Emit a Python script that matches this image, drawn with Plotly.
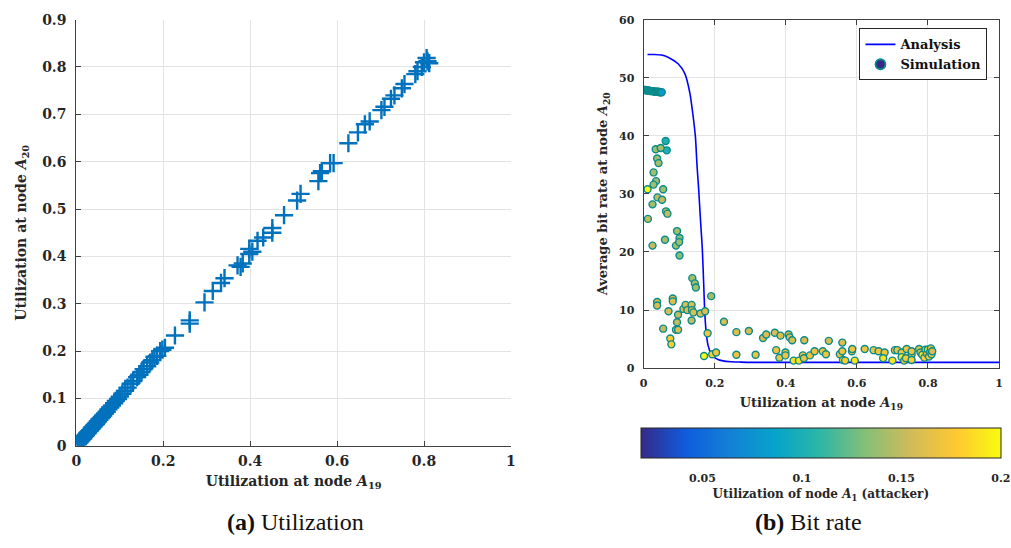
import plotly.graph_objects as go

# ---------------- (a) Utilization: A19 vs A20 ----------------
util_a19 = [0.002, 0.004, 0.006, 0.008, 0.010, 0.012, 0.014, 0.016, 0.018, 0.020,
            0.022, 0.025, 0.027, 0.030, 0.032, 0.035, 0.037, 0.040, 0.042, 0.045,
            0.047, 0.050, 0.053, 0.056, 0.059, 0.062, 0.066, 0.070, 0.074, 0.078,
            0.082, 0.087, 0.091, 0.096, 0.100, 0.106, 0.112, 0.118, 0.125, 0.131,
            0.140, 0.145, 0.150, 0.155, 0.163, 0.170, 0.175, 0.180, 0.186, 0.193,
            0.198, 0.204, 0.227, 0.261, 0.261, 0.295, 0.314, 0.333, 0.341, 0.371,
            0.378, 0.383, 0.398, 0.398, 0.405, 0.417, 0.430, 0.451, 0.451, 0.478,
            0.508, 0.516, 0.557, 0.561, 0.565, 0.584, 0.592, 0.626, 0.648, 0.664,
            0.675, 0.702, 0.709, 0.724, 0.732, 0.749, 0.755, 0.780, 0.785, 0.795,
            0.800, 0.806, 0.808, 0.812]
util_a20 = [0.003, 0.004, 0.007, 0.008, 0.011, 0.012, 0.015, 0.016, 0.019, 0.021,
            0.023, 0.026, 0.028, 0.031, 0.033, 0.036, 0.039, 0.041, 0.044, 0.046,
            0.049, 0.052, 0.055, 0.058, 0.061, 0.064, 0.068, 0.072, 0.077, 0.081,
            0.085, 0.090, 0.095, 0.099, 0.104, 0.110, 0.116, 0.123, 0.131, 0.137,
            0.145, 0.150, 0.156, 0.162, 0.168, 0.176, 0.181, 0.188, 0.190, 0.200,
            0.203, 0.207, 0.233, 0.265, 0.258, 0.303, 0.327, 0.344, 0.354, 0.381,
            0.378, 0.385, 0.405, 0.416, 0.410, 0.433, 0.440, 0.460, 0.450, 0.487,
            0.518, 0.532, 0.559, 0.576, 0.580, 0.597, 0.597, 0.639, 0.662, 0.679,
            0.685, 0.709, 0.716, 0.733, 0.740, 0.755, 0.764, 0.785, 0.791, 0.800,
            0.810, 0.819, 0.812, 0.808]

# ---------------- (b) Bit rate ----------------
analysis_x = [0.011, 0.03, 0.051, 0.07, 0.097, 0.116, 0.130, 0.139, 0.146, 0.150,
              0.155, 0.160, 0.165, 0.169, 0.172, 0.176, 0.181, 0.186, 0.190, 0.200,
              0.209, 0.22, 0.246, 0.27, 0.30, 0.40, 0.60, 0.80, 1.0]
analysis_y = [54.0, 54.0, 53.9, 53.5, 52.4, 50.7, 47.4, 43.5, 39.6, 35.1,
              30.7, 25.5, 20.7, 14.5, 9.6, 6.2, 4.0, 3.0, 2.3, 1.8,
              1.5, 1.3, 1.1, 1.05, 1.0, 1.0, 1.0, 1.0, 1.0]

sim_x = [0.003, 0.006, 0.009, 0.012, 0.015, 0.018, 0.021, 0.024, 0.027, 0.030,
         0.033, 0.036, 0.039, 0.042, 0.045, 0.048, 0.051,
         0.062, 0.065, 0.034, 0.048, 0.038, 0.042, 0.028, 0.035, 0.028, 0.011,
         0.055, 0.012, 0.025, 0.025, 0.039, 0.052, 0.063, 0.067, 0.060, 0.094,
         0.091, 0.101, 0.100, 0.101,
         0.038, 0.038, 0.070, 0.082, 0.082, 0.055, 0.075, 0.078, 0.091, 0.097,
         0.094, 0.097, 0.112, 0.118, 0.123, 0.135, 0.136, 0.135, 0.140, 0.137,
         0.144, 0.147, 0.160, 0.173, 0.190, 0.180, 0.170, 0.193, 0.204, 0.226,
         0.261, 0.261, 0.296, 0.315, 0.336, 0.345, 0.369, 0.373, 0.382, 0.385,
         0.399, 0.399, 0.408, 0.411, 0.418, 0.422, 0.437, 0.448, 0.451, 0.452,
         0.468, 0.481, 0.504, 0.513, 0.521, 0.552, 0.559, 0.559, 0.561, 0.567,
         0.586, 0.587, 0.594, 0.622, 0.647, 0.661, 0.678, 0.674, 0.700, 0.707,
         0.714, 0.726, 0.726, 0.733, 0.738, 0.740, 0.754, 0.754, 0.754, 0.775,
         0.779, 0.784, 0.790, 0.793, 0.797, 0.800, 0.803, 0.806, 0.808, 0.810,
         0.812]
sim_y = [47.9, 47.9, 47.8, 47.8, 47.8, 47.7, 47.7, 47.7, 47.7, 47.6,
         47.6, 47.6, 47.6, 47.6, 47.5, 47.5, 47.5,
         39.1, 37.5, 37.7, 37.9, 36.1, 35.3, 33.7, 32.2, 31.6, 30.8,
         30.8, 25.7, 21.1, 28.2, 29.4, 29.0, 27.0, 26.6, 22.1, 23.6,
         21.1, 22.4, 21.7, 19.4,
         11.4, 10.8, 9.8, 12.0, 11.5, 6.8, 5.1, 4.1, 6.6, 6.6,
         7.9, 9.2, 10.2, 10.9, 10.0, 10.9, 10.0, 8.2, 9.6, 15.5,
         14.6, 13.9, 9.4, 9.8, 12.4, 6.0, 2.1, 2.4, 2.7, 8.0,
         6.2, 2.3, 6.4, 2.3, 5.2, 5.8, 6.1, 3.1, 1.8, 5.6,
         2.7, 2.2, 5.8, 5.3, 4.8, 1.3, 1.3, 2.2, 1.7, 4.8,
         2.2, 2.9, 2.9, 2.4, 4.7, 2.4, 4.4, 2.9, 1.4, 1.3,
         2.9, 3.3, 1.3, 3.3, 3.1, 2.9, 2.7, 1.7, 1.3, 3.1,
         3.1, 2.7, 1.9, 1.3, 1.7, 3.3, 2.4, 2.9, 1.4, 3.3,
         2.7, 2.3, 1.8, 3.2, 2.5, 3.2, 2.0, 2.8, 3.4, 2.4,
         2.9]
attacker_util = [0.10, 0.10, 0.10, 0.10, 0.10, 0.10, 0.10, 0.10, 0.10, 0.10,
                 0.10, 0.10, 0.10, 0.10, 0.09, 0.09, 0.08,
                 0.10, 0.10, 0.14, 0.14, 0.14, 0.14, 0.14, 0.14, 0.14, 0.20,
                 0.14, 0.15, 0.15, 0.14, 0.15, 0.15, 0.15, 0.15, 0.14, 0.14,
                 0.14, 0.13, 0.14, 0.13,
                 0.16, 0.16, 0.16, 0.16, 0.16, 0.15, 0.18, 0.18, 0.15, 0.16,
                 0.15, 0.15, 0.16, 0.16, 0.16, 0.16, 0.16, 0.15, 0.16, 0.14,
                 0.14, 0.14, 0.16, 0.16, 0.14, 0.17, 0.20, 0.18, 0.17, 0.16,
                 0.16, 0.17, 0.16, 0.17, 0.16, 0.16, 0.16, 0.17, 0.17, 0.16,
                 0.17, 0.17, 0.16, 0.16, 0.16, 0.19, 0.19, 0.17, 0.17, 0.16,
                 0.17, 0.17, 0.17, 0.17, 0.16, 0.17, 0.16, 0.17, 0.19, 0.18,
                 0.17, 0.17, 0.19, 0.17, 0.17, 0.17, 0.17, 0.19, 0.19, 0.17,
                 0.17, 0.17, 0.19, 0.18, 0.18, 0.17, 0.17, 0.17, 0.18, 0.17,
                 0.17, 0.19, 0.18, 0.17, 0.17, 0.20, 0.18, 0.17, 0.16, 0.17,
                 0.16]

left_xticks = [0, 0.2, 0.4, 0.6, 0.8, 1]
left_xlabels = ["0", "0.2", "0.4", "0.6", "0.8", "1"]
left_yticks = [0, 0.1, 0.2, 0.3, 0.4, 0.5, 0.6, 0.7, 0.8, 0.9]
left_ylabels = ["0", "0.1", "0.2", "0.3", "0.4", "0.5", "0.6", "0.7", "0.8", "0.9"]
right_yticks = [0, 10, 20, 30, 40, 50, 60]
right_ylabels = ["0", "10", "20", "30", "40", "50", "60"]
cbar_ticks = [0.05, 0.1, 0.15, 0.2]
cbar_labels = ["0.05", "0.1", "0.15", "0.2"]


def bold(labels):
    return ["<b>%s</b>" % s for s in labels]


parula = [[0.0, "#352a87"], [0.125, "#0f5cdd"], [0.25, "#1481d6"],
          [0.375, "#06a4ca"], [0.5, "#2eb7a4"], [0.625, "#87bf77"],
          [0.75, "#d1bb59"], [0.875, "#fec832"], [1.0, "#f9fb0e"]]

BOLDF = "DejaVu Serif"
CAPF = "Liberation Serif"
TXT = "#262626"

fig = go.Figure()

fig.add_trace(go.Scatter(
    x=util_a19, y=util_a20, mode="markers", xaxis="x", yaxis="y",
    marker=dict(symbol="cross-thin", size=13, color="#0072bd",
                line=dict(color="#0072bd", width=2.4)),
    showlegend=False))

fig.add_trace(go.Scatter(
    x=analysis_x, y=analysis_y, mode="lines", xaxis="x2", yaxis="y2",
    line=dict(color="#0000ff", width=1.6, shape="spline", smoothing=0.6),
    name="<b>Analysis</b>"))

fig.add_trace(go.Scatter(
    x=sim_x, y=sim_y, mode="markers", xaxis="x2", yaxis="y2",
    marker=dict(size=7, color=attacker_util, colorscale=parula,
                cmin=0.019, cmax=0.2,
                line=dict(color="#0b8a8a", width=1.4),
                colorbar=dict(
                    orientation="h", x=824 / 1011, xanchor="center",
                    len=360, lenmode="pixels", thickness=30,
                    y=1 - 433 / 548, yanchor="top", ypad=0, xpad=0,
                    outlinewidth=1, outlinecolor=TXT,
                    tickvals=cbar_ticks, ticktext=bold(cbar_labels),
                    ticks="outside", ticklen=11, tickcolor="rgba(0,0,0,0)",
                    tickfont=dict(family=BOLDF, size=11, color=TXT),
                    title=dict(text="<b>Utilization of node <i>A</i><sub>1</sub> (attacker)</b>",
                               side="bottom",
                               font=dict(family=BOLDF, size=12, color=TXT)))),
    showlegend=False, name="Simulation"))

# legend-only entry for the simulation markers
fig.add_trace(go.Scatter(
    x=[None], y=[None], mode="markers", xaxis="x2", yaxis="y2",
    marker=dict(size=10, color="#352a87", line=dict(color="#0b8a8a", width=1.8)),
    name="<b>Simulation</b>"))

axis_common = dict(showgrid=True, gridcolor="#e3e3e3", gridwidth=1,
                   zeroline=False, showline=True, linecolor="#404040", linewidth=1,
                   ticks="inside", ticklen=5, tickcolor="#404040")

fig.update_layout(
    width=1011, height=548, margin=dict(l=0, r=0, t=0, b=0),
    paper_bgcolor="white", plot_bgcolor="white",
    font=dict(family=BOLDF, color=TXT),
    xaxis=dict(domain=[72 / 1011, 511 / 1011], range=[0, 1], anchor="y",
               tickvals=left_xticks, ticktext=bold(left_xlabels),
               tickfont=dict(family=BOLDF, size=14, color=TXT),
               ticklabelstandoff=2,
               title=dict(text="<b>Utilization at node <i>A</i><sub>19</sub></b>",
                          font=dict(family=BOLDF, size=14, color=TXT), standoff=8),
               **axis_common),
    yaxis=dict(domain=[97 / 548, 536 / 548], range=[0, 0.9], anchor="x",
               tickvals=left_yticks, ticktext=bold(left_ylabels),
               tickfont=dict(family=BOLDF, size=14, color=TXT),
               ticklabelstandoff=6,
               title=dict(text="<b>Utilization at node <i>A</i><sub>20</sub></b>",
                          font=dict(family=BOLDF, size=14, color=TXT), standoff=12),
               **axis_common),
    xaxis2=dict(domain=[645 / 1011, 1004 / 1011], range=[0, 1], anchor="y2",
                tickvals=left_xticks, ticktext=bold(left_xlabels),
                tickfont=dict(family=BOLDF, size=11, color=TXT),
                ticklabelstandoff=5,
                title=dict(text="<b>Utilization at node <i>A</i><sub>19</sub></b>",
                           font=dict(family=BOLDF, size=13, color=TXT), standoff=8),
                mirror="ticks", **axis_common),
    yaxis2=dict(domain=[177 / 548, 536 / 548], range=[0, 60], anchor="x2",
                tickvals=right_yticks, ticktext=bold(right_ylabels),
                tickfont=dict(family=BOLDF, size=11, color=TXT),
                ticklabelstandoff=6,
                title=dict(text="<b>Average bit rate at node <i>A</i><sub>20</sub></b>",
                           font=dict(family=BOLDF, size=13, color=TXT), standoff=8),
                mirror="ticks", **axis_common),
    legend=dict(x=863 / 1011, y=1 - 21 / 548, xanchor="left", yanchor="top",
                bgcolor="white", bordercolor="#262626", borderwidth=1,
                font=dict(family=BOLDF, size=13, color="#111111"),
                tracegroupgap=0, itemwidth=30),
    annotations=[
        dict(text="<b>(a)</b> Utilization", x=293 / 1011, y=1 - 529 / 548,
             xref="paper", yref="paper", showarrow=False, xanchor="center",
             yanchor="middle", font=dict(family=CAPF, size=24, color="#111111")),
        dict(text="<b>(b)</b> Bit rate", x=812 / 1011, y=1 - 529 / 548,
             xref="paper", yref="paper", showarrow=False, xanchor="center",
             yanchor="middle", font=dict(family=CAPF, size=24, color="#111111")),
    ],
)

fig.write_html("out.html")
